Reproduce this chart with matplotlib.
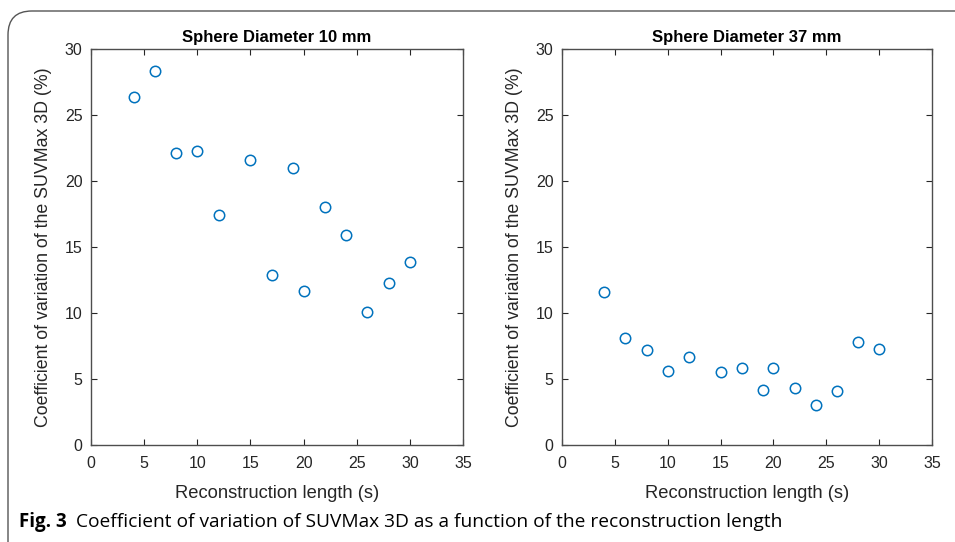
import matplotlib.pyplot as plt
from matplotlib.patches import FancyBboxPatch

# reconstruction lengths (s)
recon_len = [4, 6, 8, 10, 12, 15, 17, 19, 20, 22, 24, 26, 28, 30]

# coefficient of variation of SUVMax 3D (%)
cov_10mm = [26.4, 28.3, 22.1, 22.3, 17.4, 21.6, 12.9, 21.0, 11.7, 18.0, 15.9, 10.1, 12.3, 13.9]
cov_37mm = [11.6, 8.1, 7.2, 5.6, 6.7, 5.5, 5.8, 4.2, 5.8, 4.3, 3.0, 4.1, 7.8, 7.3]

titles = ["Sphere Diameter 10 mm", "Sphere Diameter 37 mm"]
xticks = [0, 5, 10, 15, 20, 25, 30, 35]
yticks = [0, 5, 10, 15, 20, 25, 30]

W, H = 955, 542
fig = plt.figure(figsize=(W / 100, H / 100), dpi=100)
fig.patch.set_facecolor("white")

# rounded frame around the figure panel
frame = FancyBboxPatch((8 / W, -40 / H), 1.2, (H - 11 + 40) / H,
                       boxstyle="round,pad=0,rounding_size=0.025",
                       transform=fig.transFigure, facecolor="none",
                       edgecolor="#555555", linewidth=1.0, mutation_aspect=W / H)
fig.patches.append(frame)

ax_color = "#262626"
blue = (0, 0.447, 0.741)
font = ["Liberation Sans", "DejaVu Sans"]

lefts = [91, 562]
widths = [372, 370]
top, bottom = 49, 445

for i, yvals in enumerate([cov_10mm, cov_37mm]):
    ax = fig.add_axes([lefts[i] / W, 1 - bottom / H, widths[i] / W, (bottom - top) / H])
    ax.plot(recon_len, yvals, linestyle="none", marker="o", markersize=7.5,
            markerfacecolor="none", markeredgecolor=blue, markeredgewidth=1.1)
    ax.set_xlim(0, 35)
    ax.set_ylim(0, 30)
    ax.set_xticks(xticks)
    ax.set_yticks(yticks)
    ax.tick_params(direction="in", top=True, right=True, length=4, width=0.8,
                   colors=ax_color, labelsize=11.5)
    ax.tick_params(axis="x", pad=8)
    ax.tick_params(axis="y", pad=6)
    for lab in ax.get_xticklabels() + ax.get_yticklabels():
        lab.set_family(font)
    for sp in ax.spines.values():
        sp.set_color("#4d4d4d")
        sp.set_linewidth(1.0)
    ax.set_title(titles[i], fontsize=12, fontweight="bold", family=font,
                 color="black", pad=5)
    ax.set_xlabel("Reconstruction length (s)", fontsize=13.2, family=font,
                  color=ax_color, labelpad=10)
    ax.set_ylabel("Coefficient of variation of the SUVMax 3D (%)", fontsize=12.8,
                  family=font, color=ax_color, labelpad=9)

# caption
cap_font = ["Open Sans", "DejaVu Sans"]
fig.text(19 / W, 1 - 522 / H, "Fig. 3", fontsize=13.5, fontweight="bold",
         family=cap_font, va="center", ha="left")
fig.text(76 / W, 1 - 522 / H,
         "Coefficient of variation of SUVMax 3D as a function of the reconstruction length",
         fontsize=13.8, family=cap_font, va="center", ha="left")

fig.savefig("out.png", dpi=100)
